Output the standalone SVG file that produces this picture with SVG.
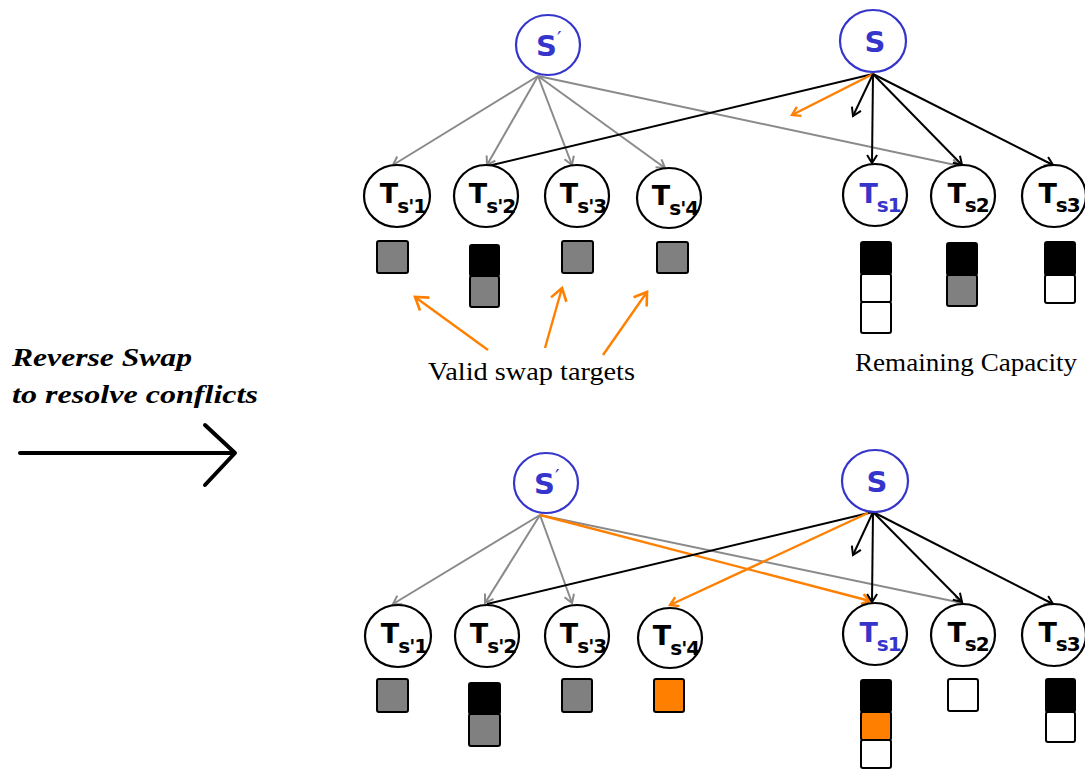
<svg xmlns="http://www.w3.org/2000/svg" width="1085" height="770" viewBox="0 0 1085 770">
<style>
.src{fill:#fff;stroke:#3535cc;stroke-width:2.2}
.nd{fill:#fff;stroke:#000;stroke-width:2.2}
.sl{font-family:"DejaVu Sans",sans-serif;font-weight:bold;font-size:29px;fill:#3535cc}
.tl{font-family:"DejaVu Sans",sans-serif;font-weight:bold;font-size:27px;fill:#000;text-anchor:middle;letter-spacing:-1px}
.tl .sub{font-size:20px}
.blue{fill:#3535cc}
.bx{stroke:#000;stroke-width:2}
.g{fill:#808080}.k{fill:#000}.w{fill:#fff}.o{fill:#ff8000}
.eg{stroke:#8a8a8a;stroke-width:2;fill:none}
.ek{stroke:#000;stroke-width:2;fill:none}
.eo{stroke:#ff8000;stroke-width:2.4;fill:none}
.lab{font-family:"Liberation Serif",serif;font-size:26px;fill:#000}
.side{font-family:"Liberation Serif",serif;font-size:25px;font-weight:bold;font-style:italic;fill:#000}
</style>
<defs>
<marker id="ag" markerUnits="userSpaceOnUse" markerWidth="14" markerHeight="14" refX="10" refY="6" orient="auto"><path d="M2,1 L10,6 L2,11" fill="none" stroke="#8a8a8a" stroke-width="2"/></marker>
<marker id="ak" markerUnits="userSpaceOnUse" markerWidth="14" markerHeight="14" refX="10" refY="6" orient="auto"><path d="M2,1 L10,6 L2,11" fill="none" stroke="#000" stroke-width="2"/></marker>
<marker id="ao" markerUnits="userSpaceOnUse" markerWidth="14" markerHeight="14" refX="10" refY="6" orient="auto"><path d="M2,1 L10,6 L2,11" fill="none" stroke="#ff8000" stroke-width="2.4"/></marker>
<marker id="aob" markerUnits="userSpaceOnUse" markerWidth="20" markerHeight="20" refX="14" refY="9" orient="auto"><path d="M2,1 L14,9 L2,17" fill="none" stroke="#ff8000" stroke-width="2.6"/></marker>
</defs>
<rect width="1085" height="770" fill="#fff"/>

<g id="connectors">
<line class="eg" x1="538" y1="76" x2="393" y2="165" marker-end="url(#ag)"/>
<line class="eg" x1="538" y1="76" x2="487" y2="165" marker-end="url(#ag)"/>
<line class="eg" x1="538" y1="76" x2="572" y2="165" marker-end="url(#ag)"/>
<line class="eg" x1="538" y1="76" x2="665" y2="168" marker-end="url(#ag)"/>
<line class="eg" x1="538" y1="76" x2="960" y2="166" marker-end="url(#ag)"/>
<line class="ek" x1="873" y1="74" x2="488" y2="166"/>
<line class="eo" x1="873" y1="74" x2="792" y2="115" marker-end="url(#ao)"/>
<line class="ek" x1="873" y1="74" x2="853" y2="116" marker-end="url(#ak)"/>
<line class="ek" x1="873" y1="74" x2="872" y2="163" marker-end="url(#ak)"/>
<line class="ek" x1="873" y1="74" x2="962" y2="165" marker-end="url(#ak)"/>
<line class="ek" x1="873" y1="74" x2="1053" y2="165" marker-end="url(#ak)"/>
<line class="eo" x1="488" y1="350" x2="415" y2="297" marker-end="url(#aob)"/>
<line class="eo" x1="545" y1="348" x2="562" y2="288" marker-end="url(#aob)"/>
<line class="eo" x1="603" y1="355" x2="647" y2="292" marker-end="url(#aob)"/>
<line class="eg" x1="540" y1="515" x2="393" y2="604" marker-end="url(#ag)"/>
<line class="eg" x1="540" y1="515" x2="485" y2="603" marker-end="url(#ag)"/>
<line class="eg" x1="540" y1="515" x2="572" y2="603" marker-end="url(#ag)"/>
<line class="eg" x1="540" y1="515" x2="962" y2="603" marker-end="url(#ag)"/>
<line class="eo" x1="540" y1="515" x2="870" y2="601" marker-end="url(#ao)"/>
<line class="ek" x1="873" y1="512" x2="487" y2="604"/>
<line class="eo" x1="868" y1="513" x2="670" y2="605" marker-end="url(#ao)"/>
<line class="ek" x1="873" y1="512" x2="853" y2="555" marker-end="url(#ak)"/>
<line class="ek" x1="873" y1="512" x2="872" y2="602" marker-end="url(#ak)"/>
<line class="ek" x1="873" y1="512" x2="962" y2="602" marker-end="url(#ak)"/>
<line class="ek" x1="873" y1="512" x2="1053" y2="604" marker-end="url(#ak)"/>
<line x1="20" y1="453" x2="233" y2="453" stroke="#000" stroke-width="4" stroke-linecap="round"/>
<path d="M205,425 L235,453 L205,485" fill="none" stroke="#000" stroke-width="4" stroke-linecap="round" stroke-linejoin="round"/>
</g>

<g id="top-Sp">
<ellipse class="src" cx="548" cy="45" rx="32" ry="30"/>
<text class="sl" x="536" y="56">S<tspan font-size="20" font-weight="normal" dy="-11">′</tspan></text>
</g>
<g id="top-S">
<ellipse class="src" cx="873" cy="41" rx="33" ry="31"/>
<text class="sl" x="875" y="52" text-anchor="middle">S</text>
</g>
<g id="top-Tsp1">
<ellipse class="nd" cx="397" cy="196" rx="33" ry="31"/>
<text class="tl" x="403" y="203">T<tspan class="sub" dy="10">s'1</tspan></text>
<rect class="bx g" x="377" y="241" width="31" height="32" rx="2"/>
</g>
<g id="top-Tsp2">
<ellipse class="nd" cx="486" cy="196" rx="32" ry="31"/>
<text class="tl" x="492" y="203">T<tspan class="sub" dy="10">s'2</tspan></text>
<rect class="bx k" x="470" y="245" width="29" height="31" rx="2"/>
<rect class="bx g" x="470" y="276" width="29" height="31" rx="2"/>
</g>
<g id="top-Tsp3">
<ellipse class="nd" cx="577" cy="196" rx="32" ry="31"/>
<text class="tl" x="583" y="203">T<tspan class="sub" dy="10">s'3</tspan></text>
<rect class="bx g" x="562" y="241" width="31" height="32" rx="2"/>
</g>
<g id="top-Tsp4">
<ellipse class="nd" cx="669" cy="198" rx="32" ry="30"/>
<text class="tl" x="675" y="205">T<tspan class="sub" dy="10">s'4</tspan></text>
<rect class="bx g" x="657" y="242" width="31" height="31" rx="2"/>
</g>
<g id="top-Ts1">
<ellipse class="nd" cx="875" cy="195" rx="32" ry="31"/>
<text class="tl blue" x="880" y="203">T<tspan class="sub" dy="9">s1</tspan></text>
<rect class="bx k" x="861" y="242" width="30" height="32" rx="2"/>
<rect class="bx w" x="861" y="274" width="30" height="28" rx="2"/>
<rect class="bx w" x="861" y="302" width="30" height="31" rx="2"/>
</g>
<g id="top-Ts2">
<ellipse class="nd" cx="963" cy="196" rx="32" ry="31"/>
<text class="tl" x="968" y="203">T<tspan class="sub" dy="9">s2</tspan></text>
<rect class="bx k" x="947" y="243" width="30" height="32" rx="2"/>
<rect class="bx g" x="947" y="275" width="30" height="31" rx="2"/>
</g>
<g id="top-Ts3">
<ellipse class="nd" cx="1054" cy="196" rx="32" ry="31"/>
<text class="tl" x="1059" y="203">T<tspan class="sub" dy="9">s3</tspan></text>
<rect class="bx k" x="1045" y="242" width="30" height="33" rx="2"/>
<rect class="bx w" x="1045" y="275" width="30" height="28" rx="2"/>
</g>

<text class="lab" x="428" y="380" textLength="207" lengthAdjust="spacingAndGlyphs">Valid swap targets</text>
<text class="lab" x="855" y="371" textLength="222" lengthAdjust="spacingAndGlyphs">Remaining Capacity</text>
<text class="side" x="12" y="366" textLength="180" lengthAdjust="spacingAndGlyphs">Reverse Swap</text>
<text class="side" x="12" y="403" textLength="246" lengthAdjust="spacingAndGlyphs">to resolve conflicts</text>

<g id="bot-Sp">
<ellipse class="src" cx="546" cy="483" rx="32" ry="30"/>
<text class="sl" x="534" y="494">S<tspan font-size="20" font-weight="normal" dy="-11">′</tspan></text>
</g>
<g id="bot-S">
<ellipse class="src" cx="875" cy="481" rx="33" ry="31"/>
<text class="sl" x="877" y="492" text-anchor="middle">S</text>
</g>
<g id="bot-Tsp1">
<ellipse class="nd" cx="398" cy="636" rx="33" ry="31"/>
<text class="tl" x="404" y="643">T<tspan class="sub" dy="10">s'1</tspan></text>
<rect class="bx g" x="377" y="679" width="31" height="33" rx="2"/>
</g>
<g id="bot-Tsp2">
<ellipse class="nd" cx="487" cy="636" rx="32" ry="31"/>
<text class="tl" x="493" y="643">T<tspan class="sub" dy="10">s'2</tspan></text>
<rect class="bx k" x="469" y="683" width="31" height="31" rx="2"/>
<rect class="bx g" x="469" y="714" width="31" height="32" rx="2"/>
</g>
<g id="bot-Tsp3">
<ellipse class="nd" cx="577" cy="636" rx="32" ry="31"/>
<text class="tl" x="583" y="643">T<tspan class="sub" dy="10">s'3</tspan></text>
<rect class="bx g" x="562" y="679" width="30" height="33" rx="2"/>
</g>
<g id="bot-Tsp4">
<ellipse class="nd" cx="670" cy="638" rx="32" ry="30"/>
<text class="tl" x="676" y="645">T<tspan class="sub" dy="10">s'4</tspan></text>
<rect class="bx o" x="654" y="679" width="30" height="33" rx="2"/>
</g>
<g id="bot-Ts1">
<ellipse class="nd" cx="875" cy="634" rx="32" ry="31"/>
<text class="tl blue" x="880" y="642">T<tspan class="sub" dy="9">s1</tspan></text>
<rect class="bx k" x="861" y="680" width="30" height="32" rx="2"/>
<rect class="bx o" x="861" y="712" width="30" height="28" rx="2"/>
<rect class="bx w" x="861" y="740" width="30" height="28" rx="2"/>
</g>
<g id="bot-Ts2">
<ellipse class="nd" cx="963" cy="635" rx="32" ry="31"/>
<text class="tl" x="968" y="642">T<tspan class="sub" dy="9">s2</tspan></text>
<rect class="bx w" x="948" y="679" width="30" height="32" rx="2"/>
</g>
<g id="bot-Ts3">
<ellipse class="nd" cx="1054" cy="635" rx="32" ry="31"/>
<text class="tl" x="1059" y="642">T<tspan class="sub" dy="9">s3</tspan></text>
<rect class="bx k" x="1046" y="679" width="29" height="33" rx="2"/>
<rect class="bx w" x="1046" y="712" width="29" height="30" rx="2"/>
</g>
</svg>
